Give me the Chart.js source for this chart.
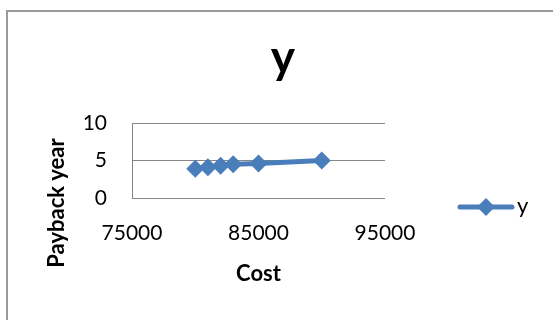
<!DOCTYPE html>
<html><head><meta charset="utf-8">
<script src="https://cdn.jsdelivr.net/npm/chart.js@4"></script>
<style>
html,body{margin:0;padding:0;background:#fff;}
#wrap{position:relative;width:553px;height:320px;overflow:hidden;background:#fff;}
#frame{position:absolute;left:6px;top:10px;width:600px;height:400px;border:2px solid #9a9a9a;box-sizing:border-box;pointer-events:none;}
canvas{position:absolute;left:0;top:0;}
</style></head><body>
<div id="wrap"><canvas id="c" width="553" height="320"></canvas><div id="frame"></div></div>
<script>
const chartTitle = 'y';
const seriesName = 'y';
const xTitle = 'Cost';
const yTitle = 'Payback year';
const costs = [80000, 81000, 82000, 83000, 85000, 90000];
const paybackYears = [3.9, 4.1, 4.3, 4.5, 4.6, 5.0];
const xTicks = [75000, 85000, 95000];
const yTicks = [0, 5, 10];

const FONT = 'Lato';
const BLUE = '#4a7ebb';
const GRID = '#868686';

const extras = {
  id: 'extras',
  afterDraw(chart) {
    const ctx = chart.ctx;
    ctx.save();
    ctx.fillStyle = '#000';
    // chart title
    ctx.font = 'bold 46px ' + FONT;
    ctx.textAlign = 'center';
    ctx.textBaseline = 'alphabetic';
    ctx.fillText(chartTitle, 283, 73);
    // y axis title
    ctx.save();
    ctx.translate(57, 203);
    ctx.rotate(-Math.PI / 2);
    ctx.font = 'bold 22px ' + FONT;
    ctx.textAlign = 'center';
    ctx.textBaseline = 'middle';
    ctx.fillText(yTitle, 0, 0);
    ctx.restore();
    // legend
    const ds = chart.data.datasets[0];
    const ly = 207;
    ctx.strokeStyle = ds.borderColor;
    ctx.lineWidth = ds.borderWidth;
    ctx.lineCap = 'round';
    ctx.beginPath();
    ctx.moveTo(460, ly);
    ctx.lineTo(512, ly);
    ctx.stroke();
    const r = ds.pointRadius;
    ctx.fillStyle = ds.backgroundColor;
    ctx.beginPath();
    ctx.moveTo(486, ly - r);
    ctx.lineTo(486 + r, ly);
    ctx.lineTo(486, ly + r);
    ctx.lineTo(486 - r, ly);
    ctx.closePath();
    ctx.fill();
    ctx.fillStyle = '#000';
    ctx.font = '22px ' + FONT;
    ctx.textAlign = 'left';
    ctx.textBaseline = 'alphabetic';
    ctx.fillText(ds.label, 517, 213);
    ctx.restore();
  }
};

new Chart(document.getElementById('c'), {
  type: 'scatter',
  data: {
    datasets: [{
      label: seriesName,
      data: costs.map((x, i) => ({ x: x, y: paybackYears[i] })),
      showLine: true,
      borderColor: BLUE,
      backgroundColor: BLUE,
      borderWidth: 5,
      pointStyle: 'rectRot',
      pointRadius: 9,
      pointHoverRadius: 9,
      pointBorderWidth: 0,
      tension: 0
    }]
  },
  options: {
    responsive: false,
    animation: false,
    events: [],
    layout: { padding: { top: 123, left: 0, right: 168, bottom: 0 } },
    plugins: { legend: { display: false }, title: { display: false }, tooltip: { enabled: false } },
    scales: {
      x: {
        type: 'linear', min: 75000, max: 95000,
        afterBuildTicks: s => { s.ticks = xTicks.map(v => ({ value: v })); },
        afterFit: s => { s.height = 122; },
        ticks: { font: { family: FONT, size: 21 }, color: '#000', padding: 23, callback: v => String(v), maxRotation: 0 },
        grid: { display: false, drawTicks: false },
        border: { display: false },
        title: { display: true, text: xTitle, color: '#000', font: { family: FONT, size: 22, weight: 'bold' }, padding: { top: 0, bottom: 33 } }
      },
      y: {
        type: 'linear', min: 0, max: 10,
        afterBuildTicks: s => { s.ticks = yTicks.map(v => ({ value: v })); },
        afterFit: s => { s.width = 132; },
        ticks: { font: { family: FONT, size: 21 }, color: '#000', padding: 25 },
        grid: { color: GRID, lineWidth: 1, drawTicks: false },
        border: { display: true, color: GRID, width: 1 }
      }
    }
  },
  plugins: [extras]
});
</script>
</body></html>
